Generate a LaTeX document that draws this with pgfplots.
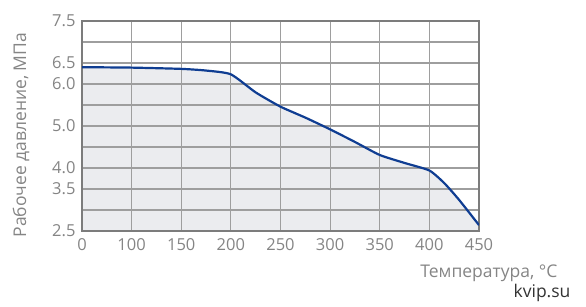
\documentclass[border=0pt]{standalone}
\usepackage{pgfplots}
\pgfplotsset{compat=1.18}
\usepackage{fontspec}
\setmainfont{Open Sans}
\definecolor{tickgray}{HTML}{858585}
\definecolor{gridgray}{HTML}{9E9E9E}
\definecolor{framegray}{HTML}{7C7C7C}
\definecolor{fillgray}{HTML}{EBECEF}
\definecolor{curveblue}{HTML}{0F3D92}
\definecolor{markgray}{HTML}{333333}
\pgfplotstableread{
x y
0 6.40
1 6.39
2 6.36
2.5 6.32
3 6.23
3.5 5.80
4 5.46
4.5 5.20
5 4.92
5.5 4.62
6 4.31
6.5 4.12
7 3.94
7.3 3.64
7.6 3.24
8 2.64
}\datatable
\begin{document}
\begin{tikzpicture}
\begin{axis}[
  name=main,
  set layers,
  scale only axis,
  width=397pt, height=210pt,
  xmin=0, xmax=8, ymin=2.5, ymax=7.5,
  xtick={0,1,2,3,4,5,6,7,8},
  xticklabels={0,100,150,200,250,300,350,400,450},
  ytick={2.5,3,3.5,4,4.5,5,5.5,6,6.5,7,7.5},
  yticklabels={2.5,,3.5,4.0,,5.0,,6.0,6.5,,7.5},
  xmajorgrids=true, ymajorgrids=true,
  major grid style={draw=gridgray, line width=1.1pt},
  axis line style={framegray, line width=2pt},
  major tick length=0pt,
  /pgf/number format/assume math mode=true,
  ticklabel style={font=\fontsize{16.5}{19}\selectfont, text=tickgray},
  yticklabel style={xshift=-3pt},
  xticklabel style={yshift=-4pt},
  xlabel={Температура, °С},
  xlabel style={at={(rel axis cs:1,0)}, anchor=east, xshift=82pt, yshift=-42pt,
    font=\fontsize{17.5}{20}\selectfont, text=tickgray},
  ylabel={Рабочее давление, МПа},
  ylabel style={at={(rel axis cs:0,0.5)}, anchor=center, xshift=-9pt, yshift=61pt,
    font=\fontsize{17.5}{20}\selectfont, text=tickgray},
]
\addplot[on layer=axis background, fill=fillgray, draw=none, smooth, tension=0.35] table {\datatable} \closedcycle;
\addplot[curveblue, line width=2.2pt, smooth, tension=0.35] table {\datatable};
\end{axis}
\node[anchor=east, font=\fontsize{17.5}{20}\selectfont, text=markgray] at ([xshift=95pt, yshift=-62pt]main.south east) {kvip.su};
\path ([xshift=-82pt, yshift=-76pt]main.south west) rectangle ++(586pt,307pt);
\end{tikzpicture}
\end{document}
